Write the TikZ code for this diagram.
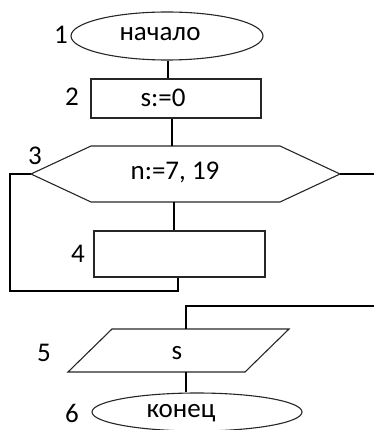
\documentclass[tikz,border=0pt]{standalone}
\usepackage{fontspec}
\setmainfont{Carlito}
\usetikzlibrary{shapes.geometric}
\tikzset{
  conn/.style={line width=1.3pt, black},
  shp/.style={draw=black!85, line width=1.1pt},
  txt/.style={inner sep=0pt, font=\fontsize{27}{29}\selectfont, text=black},
  lbl/.style={inner sep=0pt, font=\fontsize{27}{29}\selectfont, text=black}
}
\begin{document}
\begin{tikzpicture}[x=1pt,y=-1pt]
\useasboundingbox (0,0) rectangle (374,430);
\clip (0,0) rectangle (374,430);
% shapes
\node (b1) [ellipse, shp, minimum width=192pt, minimum height=48pt, inner sep=0pt] at (167,36) {};
\node (b2) [rectangle, shp, minimum width=170pt, minimum height=39pt, inner sep=0pt] at (176,98.5) {};
\coordinate (hL) at (31,174);
\coordinate (hR) at (340,174);
\coordinate (hT) at (172,146);
\coordinate (hB) at (174,202);
\draw[shp] (hL) -- (91,146) -- (280,146) -- (hR) -- (280,202) -- (91,202) -- cycle;
\node (b4) [rectangle, shp, minimum width=171pt, minimum height=46pt, inner sep=0pt] at (179.5,254) {};
\coordinate (pT) at (186,329);
\coordinate (pB) at (186,372);
\draw[shp] (112,329) -- (289,329) -- (245,372) -- (68,372) -- cycle;
\node (b6) [ellipse, shp, minimum width=210pt, minimum height=38pt, inner sep=0pt] at (197,412) {};
% texts
\node[txt] (t1) at (160,34.5) {начало};
\node[txt] (t2) at (163,98) {s:=0};
\node[txt] (t3) at (175,172) {n:=7, 19};
\node[txt] (t5) at (177,353) {s};
\node[txt] (t6) at (181,413.5) {конец};
% labels
\node[lbl] at (61,35) {1};
\node[lbl] at (72,97) {2};
\node[lbl] at (35,156) {3};
\node[lbl] at (78,254) {4};
\node[lbl] at (44,353) {5};
\node[lbl] at (72,413) {6};
% connectors
\coordinate (eR) at (374,174);
\coordinate (eR2) at (374,306);
\draw[conn] (b1.south -| 168,0) -- (b2.north -| 168,0);
\draw[conn] (b2.south -| hT) -- (hT);
\draw[conn] (hR) -- (eR);
\draw[conn] (hB) -- (b4.north -| hB);
\draw[conn] (hL) -- (10,174) -- (10,291) -- (178,291) -- (b4.south -| 178,0);
\draw[conn] (eR2) -- (186,306) -- (pT);
\draw[conn] (pB) -- (b6.north -| pB);
\end{tikzpicture}
\end{document}
